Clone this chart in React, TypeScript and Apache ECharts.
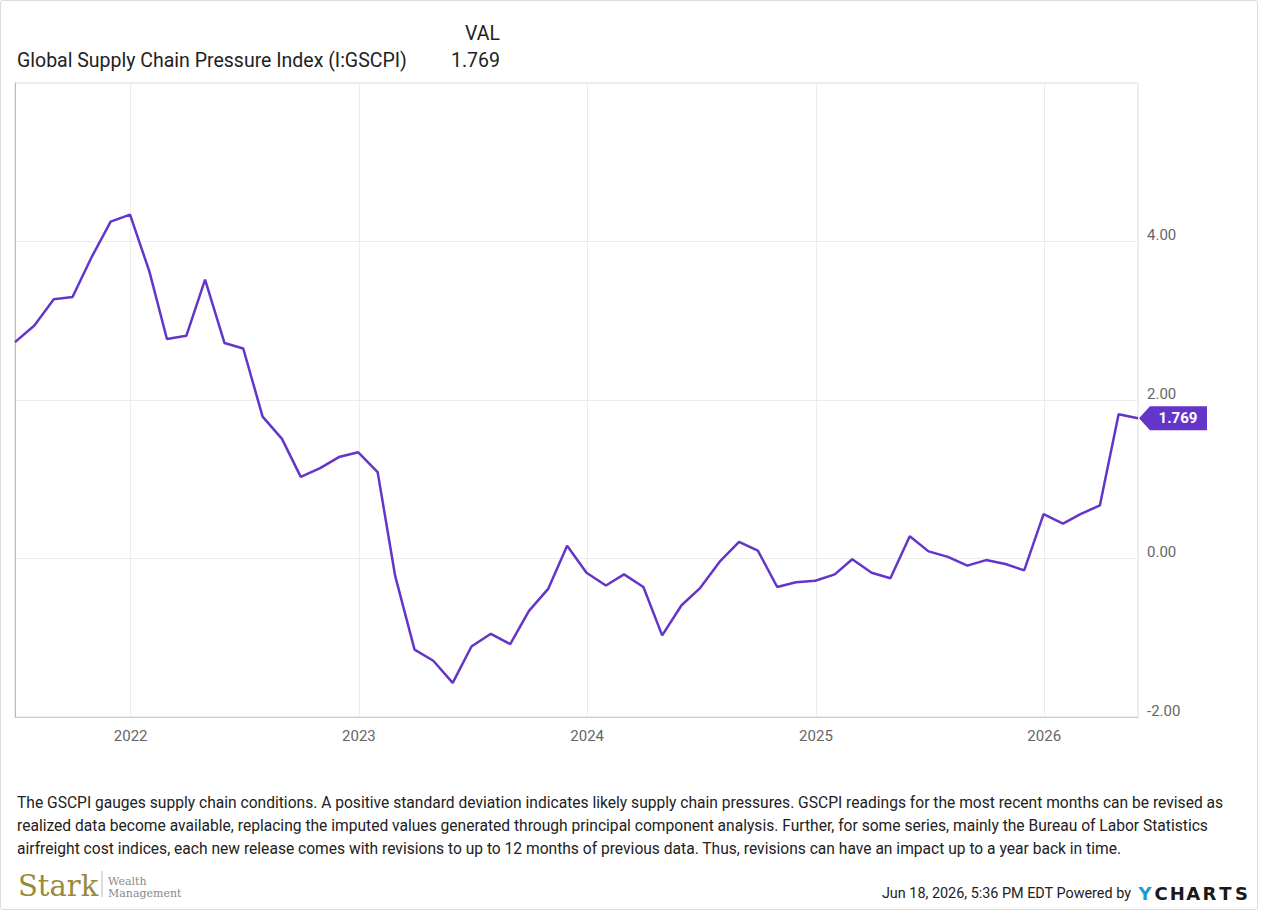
import React, { useEffect, useRef } from "react";
import * as echarts from "echarts";

const dates: string[] = [
  "2021-06-30", "2021-07-31", "2021-08-31", "2021-09-30", "2021-10-31", "2021-11-30", "2021-12-31",
  "2022-01-31", "2022-02-28", "2022-03-31", "2022-04-30", "2022-05-31", "2022-06-30",
  "2022-07-31", "2022-08-31", "2022-09-30", "2022-10-31", "2022-11-30", "2022-12-31",
  "2023-01-31", "2023-02-28", "2023-03-31", "2023-04-30", "2023-05-31", "2023-06-30",
  "2023-07-31", "2023-08-31", "2023-09-30", "2023-10-31", "2023-11-30", "2023-12-31",
  "2024-01-31", "2024-02-29", "2024-03-31", "2024-04-30", "2024-05-31", "2024-06-30",
  "2024-07-31", "2024-08-31", "2024-09-30", "2024-10-31", "2024-11-30", "2024-12-31",
  "2025-01-31", "2025-02-28", "2025-03-31", "2025-04-30", "2025-05-31", "2025-06-30",
  "2025-07-31", "2025-08-31", "2025-09-30", "2025-10-31", "2025-11-30", "2025-12-31",
  "2026-01-31", "2026-02-28", "2026-03-31", "2026-04-30", "2026-05-31",
];

const gscpi: number[] = [
  2.73, 2.94, 3.27, 3.3, 3.81, 4.25, 4.34,
  3.62, 2.77, 2.81, 3.52, 2.72, 2.65, 1.79, 1.51, 1.03, 1.14, 1.28, 1.34,
  1.09, -0.22, -1.15, -1.29, -1.57, -1.11, -0.95, -1.08, -0.66, -0.38, 0.16, -0.18,
  -0.34, -0.2, -0.36, -0.97, -0.59, -0.37, -0.04, 0.21, 0.1, -0.36, -0.3, -0.28,
  -0.2, -0.01, -0.18, -0.25, 0.28, 0.09, 0.02, -0.09, -0.02, -0.07, -0.15, 0.56,
  0.44, 0.56, 0.67, 1.82, 1.769,
];

const yMin = -2;
const yMax = 6;
const yStep = 2;

const seriesName = "Global Supply Chain Pressure Index (I:GSCPI)";
const columnHeader = "VAL";
const lastValueText = "1.769";

const footnoteLines: string[] = [
  "The GSCPI gauges supply chain conditions. A positive standard deviation indicates likely supply chain pressures. GSCPI readings for the most recent months can be revised as",
  "realized data become available, replacing the imputed values generated through principal component analysis. Further, for some series, mainly the Bureau of Labor Statistics",
  "airfreight cost indices, each new release comes with revisions to up to 12 months of previous data. Thus, revisions can have an impact up to a year back in time.",
];

const timestampText = "Jun 18, 2026, 5:36 PM EDT Powered by";
const brandLetters = ["Y", "C", "H", "A", "R", "T", "S"];

const LINE = "#6435c9";
const FONT = "Roboto";

export default function App() {
  const ref = useRef<HTMLDivElement>(null);

  useEffect(() => {
    document.body.style.margin = "0";
    const chart = echarts.init(ref.current!, null, { renderer: "svg" });
    const last = dates.length - 1;
    const YEAR = 365 * 24 * 3600 * 1000;

    const graphics: any[] = [
      {
        type: "rect",
        shape: { x: 0.5, y: 0.5, width: 1257, height: 909, r: 2 },
        style: { fill: "none", stroke: "#dcdcdc", lineWidth: 1 },
        silent: true,
      },
      {
        type: "text",
        x: 500,
        y: 33,
        style: { text: columnHeader, font: `19.5px ${FONT}`, fill: "#222", textAlign: "right", textVerticalAlign: "middle" },
      },
      {
        type: "text",
        x: 17,
        y: 60,
        style: { text: seriesName, font: `19.5px ${FONT}`, fill: "#222", textAlign: "left", textVerticalAlign: "middle" },
      },
      {
        type: "text",
        x: 500,
        y: 60,
        style: { text: lastValueText, font: `19.5px ${FONT}`, fill: "#222", textAlign: "right", textVerticalAlign: "middle" },
      },
      ...footnoteLines.map((t, i) => ({
        type: "text",
        x: 17,
        y: 803 + i * 23,
        style: { text: t, font: `15.6px ${FONT}`, fill: "#222", textAlign: "left", textVerticalAlign: "middle" },
      })),
      {
        type: "text",
        x: 18,
        y: 886,
        style: { text: "Stark", font: `29px 'DejaVu Serif'`, fill: "#9a8a3c", textAlign: "left", textVerticalAlign: "middle" },
      },
      {
        type: "line",
        shape: { x1: 102, y1: 871, x2: 102, y2: 897 },
        style: { stroke: "#b8b8b8", lineWidth: 1 },
      },
      {
        type: "text",
        x: 108,
        y: 881,
        style: { text: "Wealth", font: `11px 'DejaVu Serif'`, fill: "#8a8a8a", textAlign: "left", textVerticalAlign: "middle" },
      },
      {
        type: "text",
        x: 108,
        y: 893,
        style: { text: "Management", font: `11px 'DejaVu Serif'`, fill: "#8a8a8a", textAlign: "left", textVerticalAlign: "middle" },
      },
      {
        type: "text",
        x: 1131,
        y: 893,
        style: { text: timestampText, font: `14.4px ${FONT}`, fill: "#222", textAlign: "right", textVerticalAlign: "middle" },
      },
      ...brandLetters.map((l, i) => ({
        type: "text",
        x: 1145 + i * 16.1,
        y: 893,
        style: {
          text: l,
          font: `bold 18px 'DejaVu Sans'`,
          fill: i === 0 ? "#1e9ad6" : "#1a1a1a",
          textAlign: "center",
          textVerticalAlign: "middle",
        },
      })),
    ];

    chart.setOption({
      animation: false,
      backgroundColor: "#fff",
      grid: {
        left: 15,
        right: 123,
        top: 83,
        bottom: 194,
        show: true,
        borderColor: "#dddddd",
        borderWidth: 1,
        containLabel: false,
      },
      xAxis: {
        type: "time",
        min: dates[0],
        max: dates[last],
        minInterval: YEAR,
        maxInterval: YEAR + 24 * 3600 * 1000,
        axisLine: { show: true, onZero: false, lineStyle: { color: "#cccccc" } },
        axisTick: { show: false },
        splitLine: { show: true, lineStyle: { color: "#ececec" } },
        axisLabel: {
          color: "#666",
          fontFamily: FONT,
          fontSize: 15,
          margin: 11,
          showMinLabel: false,
          showMaxLabel: false,
          formatter: (v: number) => {
            const d = new Date(v);
            return d.getMonth() === 0 && d.getDate() === 1 ? String(d.getFullYear()) : "";
          },
        },
      },
      yAxis: [
        {
          type: "value",
          position: "right",
          min: yMin,
          max: yMax,
          interval: yStep,
          axisLine: { show: false },
          axisTick: { show: false },
          splitLine: { show: true, lineStyle: { color: "#ececec" } },
          axisLabel: {
            color: "#666",
            fontFamily: FONT,
            fontSize: 15,
            margin: 9,
            verticalAlign: "bottom",
            lineHeight: 13,
            showMaxLabel: false,
            formatter: (v: number) => v.toFixed(2),
          },
        },
        {
          type: "value",
          position: "left",
          min: yMin,
          max: yMax,
          interval: yStep,
          axisLine: { show: true, onZero: false, lineStyle: { color: "#bbbbbb" } },
          axisTick: { show: false },
          axisLabel: { show: false },
          splitLine: { show: false },
        },
      ],
      series: [
        {
          type: "line",
          name: seriesName,
          yAxisIndex: 0,
          data: dates.map((d, i) => [d, gscpi[i]]),
          showSymbol: false,
          symbol: "none",
          lineStyle: { color: LINE, width: 2.5 },
          markPoint: {
            symbol: "path://M0 12 L11 0 L68 0 L68 24 L11 24 Z",
            symbolSize: [68, 24],
            symbolKeepAspect: false,
            symbolOffset: [35, 0],
            itemStyle: { color: LINE },
            label: {
              show: true,
              formatter: lastValueText,
              color: "#fff",
              fontWeight: "bold",
              fontSize: 15,
              fontFamily: FONT,
              offset: [5, 0],
            },
            data: [{ coord: [dates[last], gscpi[last]] }],
          },
        },
      ],
      graphic: graphics,
    });

    return () => chart.dispose();
  }, []);

  return <div ref={ref} style={{ width: 1261, height: 911 }} />;
}
